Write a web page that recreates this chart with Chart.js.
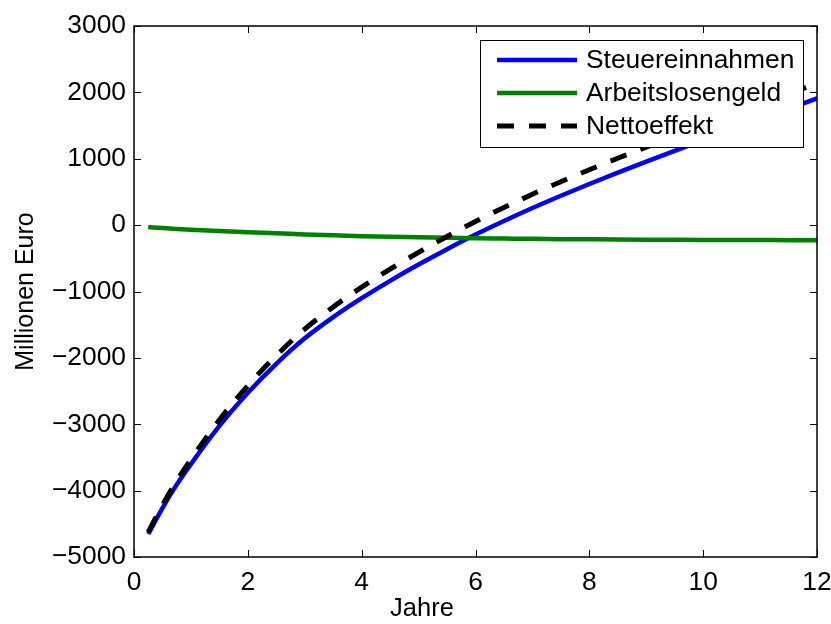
<!DOCTYPE html>
<html>
<head>
<meta charset="utf-8">
<script src="https://cdn.jsdelivr.net/npm/chart.js@4/dist/chart.umd.min.js"></script>
<style>
  html, body { margin: 0; padding: 0; background: #fff; }
  #wrap { width: 831px; height: 624px; }
</style>
</head>
<body>
<div id="wrap"><canvas id="chart" width="831" height="624"></canvas></div>
<script>
// Jahre (x values)
var jahre = [0.25, 0.5, 0.75, 1, 1.5, 2, 2.5, 3, 3.5, 4, 4.5, 5, 5.5, 6, 6.5, 7, 7.5, 8, 8.5, 9, 9.5, 10, 10.5, 11, 11.5, 12];

// Millionen Euro
var steuereinnahmen = [-4654, -4264, -3910, -3600, -3025, -2526, -2089, -1706, -1386, -1101, -839, -594, -362, -142, 63, 258, 443, 620, 790, 956, 1119, 1280, 1439, 1597, 1754, 1910];
var arbeitslosengeld = [-30, -45, -58, -70, -90, -108, -123, -140, -154, -166, -176, -184, -191, -197, -202, -207, -211, -214, -217, -219, -221, -223, -224, -225, -226, -227];
var nettoeffekt = [-4624, -4219, -3852, -3530, -2935, -2418, -1966, -1566, -1232, -935, -663, -410, -171, 55, 265, 465, 654, 834, 1007, 1175, 1340, 1503, 1663, 1822, 1980, 2137];

var xTicks = [0, 2, 4, 6, 8, 10, 12];
var yTicks = [-5000, -4000, -3000, -2000, -1000, 0, 1000, 2000, 3000];

function pts(ys) {
  var out = [];
  for (var i = 0; i < jahre.length; i++) out.push({x: jahre[i], y: ys[i]});
  return out;
}

var FONT = '"Liberation Sans", Arial, Helvetica, sans-serif';

// box round the plot area with inward tick marks on all four sides
var boxPlugin = {
  id: 'box',
  afterDatasetsDraw: function(chart) {
    var a = chart.chartArea, ctx = chart.ctx;
    var xs = chart.scales.x, ys = chart.scales.y;
    ctx.save();
    ctx.strokeStyle = '#000';
    ctx.lineWidth = 1.5;
    ctx.strokeRect(a.left, a.top, a.right - a.left, a.bottom - a.top);
    ctx.lineWidth = 1;
    ctx.beginPath();
    xTicks.forEach(function(t) {
      var px = Math.round(xs.getPixelForValue(t)) + 0.5;
      ctx.moveTo(px, a.bottom); ctx.lineTo(px, a.bottom - 7);
      ctx.moveTo(px, a.top); ctx.lineTo(px, a.top + 7);
    });
    yTicks.forEach(function(t) {
      var py = Math.round(ys.getPixelForValue(t)) + 0.5;
      ctx.moveTo(a.left, py); ctx.lineTo(a.left + 7, py);
      ctx.moveTo(a.right, py); ctx.lineTo(a.right - 7, py);
    });
    ctx.stroke();
    ctx.restore();
  },
  afterDraw: function(chart) {
    var a = chart.chartArea, ctx = chart.ctx;
    ctx.save();
    // x axis title sits left of centre in the original
    ctx.font = '25.5px ' + FONT;
    ctx.fillStyle = '#000';
    ctx.textAlign = 'center';
    ctx.textBaseline = 'middle';
    ctx.fillText('Jahre', 422, 609);

    // legend box, MATLAB style, top right inside the axes
    var right = a.right - 14, top = a.top + 14;
    var w = 323, h = 107;
    var left = right - w;
    ctx.fillStyle = '#fff';
    ctx.fillRect(left, top, w, h);
    ctx.strokeStyle = '#000';
    ctx.lineWidth = 1;
    ctx.strokeRect(left + 0.5, top + 0.5, w, h);
    ctx.font = '26.4px ' + FONT;
    ctx.textAlign = 'left';
    ctx.fillStyle = '#000';
    chart.data.datasets.forEach(function(ds, i) {
      var y = top + 20 + i * 33;
      ctx.beginPath();
      ctx.strokeStyle = ds.borderColor;
      ctx.lineWidth = ds.borderWidth;
      ctx.setLineDash(ds.borderDash || []);
      ctx.lineCap = 'butt';
      ctx.moveTo(left + 17, y);
      ctx.lineTo(left + 97, y);
      ctx.stroke();
      ctx.setLineDash([]);
      ctx.fillText(ds.label, left + 106, y + 1);
    });
    ctx.restore();
  }
};

new Chart(document.getElementById('chart').getContext('2d'), {
  type: 'line',
  data: {
    datasets: [
      { label: 'Steuereinnahmen', data: pts(steuereinnahmen), borderColor: '#0000ff', borderWidth: 4.5, order: 3 },
      { label: 'Arbeitslosengeld', data: pts(arbeitslosengeld), borderColor: '#008000', borderWidth: 4.5, order: 2 },
      { label: 'Nettoeffekt', data: pts(nettoeffekt), borderColor: '#000000', borderWidth: 5, borderDash: [17, 15], order: 1 }
    ]
  },
  options: {
    responsive: false,
    animation: false,
    devicePixelRatio: 1,
    layout: { padding: { top: 26, right: 14, left: 0, bottom: 0 } },
    elements: {
      point: { radius: 0 },
      line: { cubicInterpolationMode: 'monotone', fill: false, borderCapStyle: 'butt' }
    },
    plugins: { legend: { display: false }, tooltip: { enabled: false } },
    scales: {
      x: {
        type: 'linear', min: 0, max: 12,
        afterBuildTicks: function(s) { s.ticks = xTicks.map(function(v) { return {value: v}; }); },
        afterFit: function(s) { s.height = 67; s.paddingLeft = 0; s.paddingRight = 0; },
        grid: { display: false, drawTicks: false },
        border: { display: false },
        ticks: { color: '#000', font: { family: FONT, size: 26.4 }, padding: 10, maxRotation: 0,
                 callback: function(v) { return String(v); } },
        title: { display: false }
      },
      y: {
        min: -5000, max: 3000,
        afterBuildTicks: function(s) { s.ticks = yTicks.map(function(v) { return {value: v}; }); },
        afterFit: function(s) { s.width = 134; s.paddingTop = 0; s.paddingBottom = 0; },
        grid: { display: false, drawTicks: false },
        border: { display: false },
        ticks: { color: '#000', font: { family: FONT, size: 26.4 }, padding: 8,
                 callback: function(v) { return String(v).replace('-', '\u2212'); } },
        title: { display: true, text: 'Millionen Euro', color: '#000', font: { family: FONT, size: 25 }, padding: { top: 11, bottom: 0 } }
      }
    }
  },
  plugins: [boxPlugin]
});
</script>
</body>
</html>
